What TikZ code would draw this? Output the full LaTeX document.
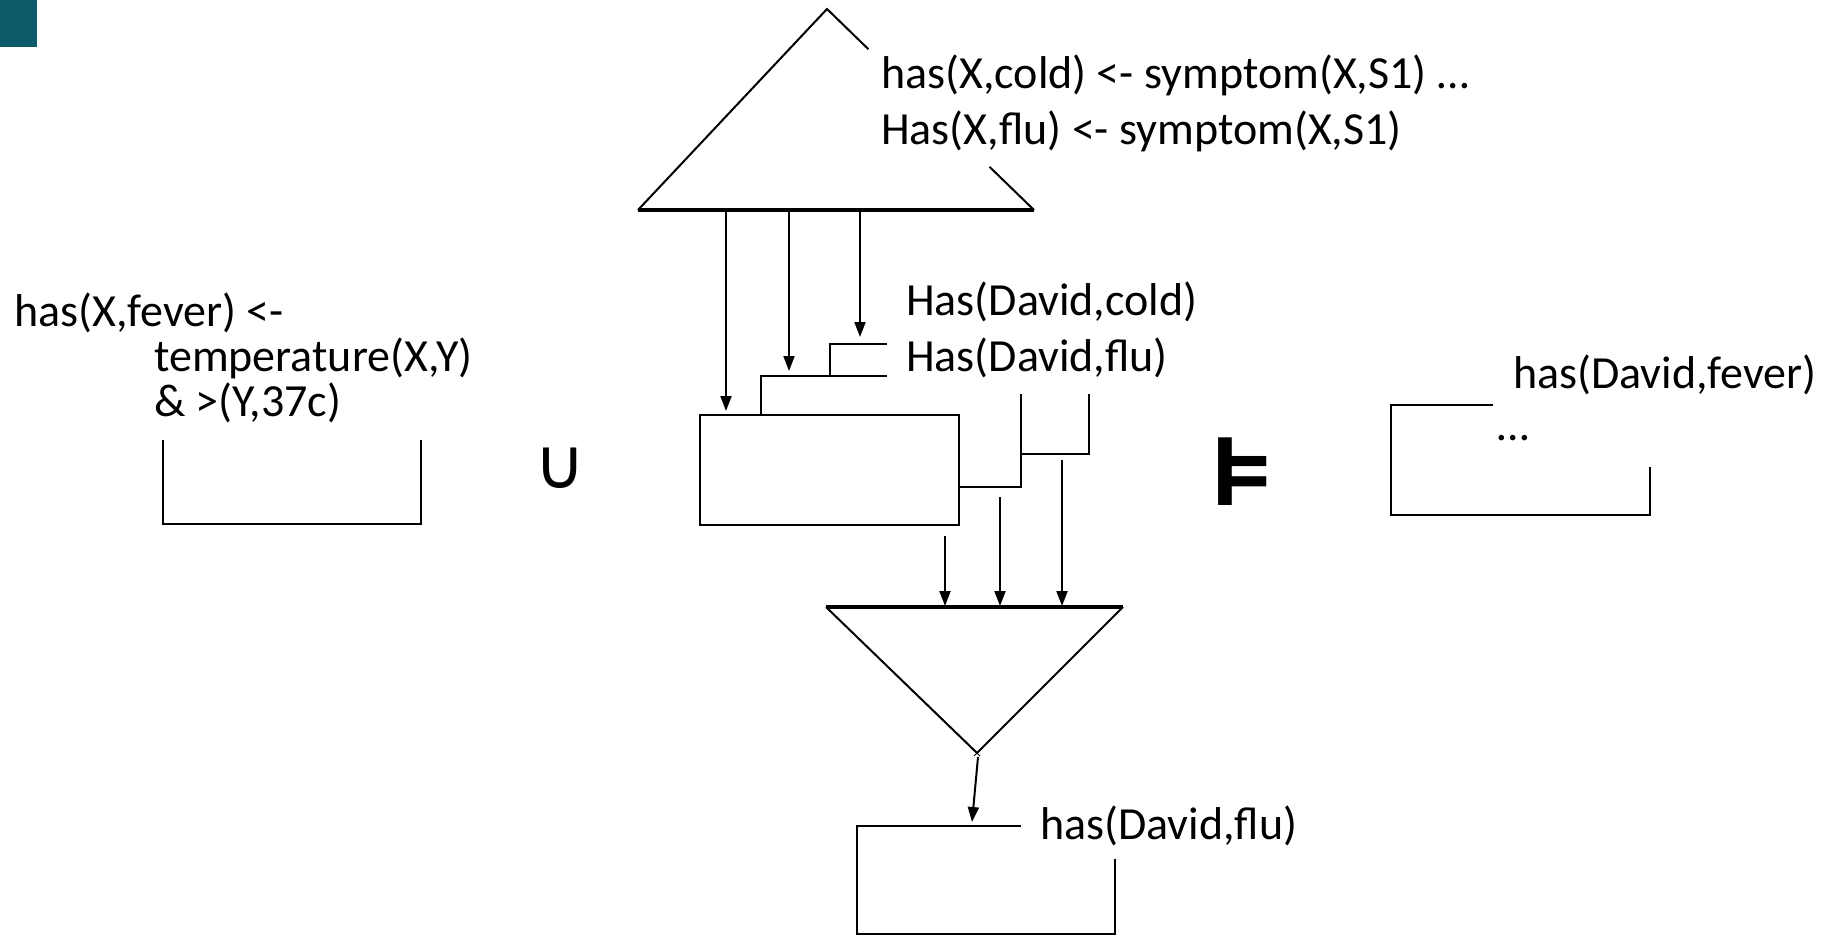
\documentclass[tikz,border=0pt]{standalone}
\usepackage{fontspec}
\setmainfont{Carlito}
\newfontfamily\symfont{DejaVu Sans}
\usetikzlibrary{arrows.meta,calc}
\definecolor{logoteal}{HTML}{0B5B6B}
\begin{document}
\begin{tikzpicture}[x=1pt,y=-1pt,
  ln/.style={line width=2pt},
  boldln/.style={line width=4pt},
  arr/.style={line width=2pt,-{Triangle[length=15pt,width=11pt]}},
  txt/.style={anchor=west,inner sep=0pt,font=\fontsize{46}{56}\selectfont},
  ltxt/.style={anchor=west,inner sep=0pt,font=\fontsize{46}{50}\selectfont},
]
\useasboundingbox (0,0) rectangle (1830,936);
\fill[logoteal] (0,0) rectangle (37,47);

% top triangle
\coordinate (tA) at (827,9);
\coordinate (tL) at (638,210);
\coordinate (tR) at (1034,210);
\draw[ln] (tL) -- (tA) -- ($(tA)!0.2!(tR)$);
\draw[ln] ($(tA)!0.785!(tR)$) -- (tR);
\draw[boldln] (tL) -- (tR);
\node[txt] (r1) at (881,75) {has(X,cold) <- symptom(X,S1) …};
\node[txt] (r2) at (881,131) {Has(X,flu) <- symptom(X,S1)};

% middle box
\node[draw,ln,minimum width=259pt,minimum height=110pt,anchor=north west,inner sep=0pt] (mid) at (699,414) {};
\coordinate (a1s) at (726,210); \coordinate (a1e) at (726,411);
\coordinate (a2s) at (789,210); \coordinate (a2e) at (789,371);
\coordinate (a3s) at (860,210); \coordinate (a3e) at (860,337);
\draw[arr] (a1s) -- (a1e);
\draw[arr] (a2s) -- (a2e);
\draw[arr] (a3s) -- (a3e);

\node[txt] (f1) at (906,302) {Has(David,cold)};
\node[txt] (f2) at (906,358) {Has(David,flu)};
\coordinate (b1) at (887,344); \coordinate (b2) at (830,344);
\coordinate (b3) at (830,376); \coordinate (b4) at (887,376);
\coordinate (b5) at (761,376); \coordinate (b6) at (761,414);
\draw[ln] (b1) -- (b2) -- (b3);
\draw[ln] (b4) -- (b5) -- (b6);

\coordinate (c1) at (958,487); \coordinate (c2) at (1021,487);
\coordinate (c3) at (1021,394); \coordinate (c4) at (1021,454);
\coordinate (c5) at (1089,454); \coordinate (c6) at (1089,394);
\draw[ln] (c1) -- (c2) -- (c3);
\draw[ln] (c4) -- (c5) -- (c6);

% bottom triangle
\coordinate (bL) at (826,607);
\coordinate (bR) at (1123,607);
\coordinate (bA) at (977,753);
\draw[ln] (bL) -- (bA) -- (bR);
\draw[boldln] (bL) -- (bR);
\coordinate (d1s) at (945,536); \coordinate (d1e) at (945,606);
\coordinate (d2s) at (1000,497); \coordinate (d2e) at (1000,606);
\coordinate (d3s) at (1062,460); \coordinate (d3e) at (1062,606);
\draw[arr] (d1s) -- (d1e);
\draw[arr] (d2s) -- (d2e);
\draw[arr] (d3s) -- (d3e);
\draw[line width=1pt] ($(bA)+(-3,-3)$) -- ($(bA)+(3,3)$) ($(bA)+(-3,3)$) -- ($(bA)+(3,-3)$);

% bottom box
\coordinate (e0) at (978,757); \coordinate (e1) at (972,822);
\draw[arr] (e0) -- (e1);
\coordinate (g1) at (1021,826); \coordinate (g2) at (857,826);
\coordinate (g3) at (857,934); \coordinate (g4) at (1115,934);
\coordinate (g5) at (1115,859);
\draw[ln] (g1) -- (g2) -- (g3) -- (g4) -- (g5);
\node[txt] (res) at (1040,826) {has(David,flu)};

% left
\node[ltxt] (l1) at (14,313) {has(X,fever) <-};
\node[ltxt] (l2) at (154,358) {temperature(X,Y)};
\node[ltxt] (l3) at (154,403) {\& >(Y,37c)};
\coordinate (h1) at (163,440); \coordinate (h2) at (163,524);
\coordinate (h3) at (421,524); \coordinate (h4) at (421,440);
\draw[ln] (h1) -- (h2) -- (h3) -- (h4);
\node[inner sep=0pt,font=\symfont\fontsize{70}{70}\selectfont] (cup) at (560,468) {∪};

% models
\node[inner sep=0pt,xscale=1.35,font=\symfont\bfseries\fontsize{96}{96}\selectfont] (mod) at (1243,472) {⊧};

% right
\node[txt] (rf) at (1513,375) {has(David,fever)};
\node[txt] (rd) at (1497,438) {…};
\coordinate (k1) at (1493,405); \coordinate (k2) at (1391,405);
\coordinate (k3) at (1391,515); \coordinate (k4) at (1650,515);
\coordinate (k5) at (1650,467);
\draw[ln] (k1) -- (k2) -- (k3) -- (k4) -- (k5);
\end{tikzpicture}
\end{document}
